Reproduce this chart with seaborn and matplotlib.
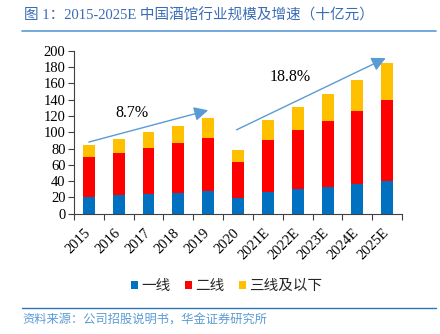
import numpy as np
import pandas as pd
import matplotlib
matplotlib.use("Agg")
import matplotlib.pyplot as plt
import matplotlib.transforms as mtransforms
import seaborn as sns

years = ["2015", "2016", "2017", "2018", "2019", "2020", "2021E", "2022E", "2023E", "2024E", "2025E"]
tier1 = [21, 23, 24.5, 26, 28, 19, 27, 30, 33, 36, 40]
tier2 = [49, 52, 56.5, 61, 65, 45, 64, 73, 81, 90, 100]
tier3 = [14, 17, 19, 21, 25, 14, 24, 28, 33, 38, 45]
series_names = ["一线", "二线", "三线及以下"]
colors = ["#0070C0", "#FF0000", "#FFC000"]
cagr_labels = ["8.7%", "18.8%"]

sns.set_theme(style="white")
plt.rcParams['font.family'] = ['Liberation Serif', 'Noto Sans CJK SC', 'DejaVu Sans']

fig = plt.figure(figsize=(4.4, 3.34), dpi=100)
ax = fig.add_axes([0.168, 0.360, 0.746, 0.488])

t1 = np.array(tier1)
t2 = t1 + np.array(tier2)
t3 = t2 + np.array(tier3)
df = pd.DataFrame({"year": years, "t1": t1, "t2": t2, "t3": t3})

for col, c in zip(["t3", "t2", "t1"], colors[::-1]):
    sns.barplot(data=df, x="year", y=col, color=c, width=0.4, ax=ax,
                saturation=1, edgecolor="none", linewidth=0)

ax.set_xlim(-0.5, 10.5)
ax.set_ylim(0, 200)
ax.set_yticks(np.arange(0, 201, 20))
ax.set_xlabel("")
ax.set_ylabel("")
for s in ["top", "right"]:
    ax.spines[s].set_visible(False)
for s in ["left", "bottom"]:
    ax.spines[s].set_color("#404040")
    ax.spines[s].set_linewidth(0.8)

ax.tick_params(axis="y", which="major", left=True, length=4, width=0.8, color="#404040",
               labelsize=10.5, pad=2, labelcolor="black")
ax.tick_params(axis="x", which="major", bottom=False, length=0, labelsize=10.5, pad=9, labelcolor="black")
ax.set_xticks(np.arange(-0.5, 10.6, 1), minor=True)
ax.tick_params(axis="x", which="minor", bottom=True, length=4, width=0.8, color="#404040")
offset = mtransforms.ScaledTranslation(3 / 72, 0, fig.dpi_scale_trans)
for lbl in ax.get_xticklabels():
    lbl.set_rotation(45)
    lbl.set_ha("right")
    lbl.set_family("Liberation Serif")
    lbl.set_transform(lbl.get_transform() + offset)
plt.setp(ax.get_yticklabels(), family="Liberation Serif")

arrow_color = "#5B9BD5"
ax.annotate("", xy=(4.0, 127), xytext=(0.0, 88),
            arrowprops=dict(arrowstyle="-|>,head_length=0.7,head_width=0.35", color=arrow_color, lw=1.0,
                            shrinkA=0, shrinkB=0))
ax.annotate("", xy=(9.95, 191), xytext=(4.95, 103),
            arrowprops=dict(arrowstyle="-|>,head_length=0.7,head_width=0.35", color=arrow_color, lw=1.0,
                            shrinkA=0, shrinkB=0))
ax.text(1.45, 123.5, cagr_labels[0], ha="center", va="center", fontsize=11.5,
        family="Liberation Serif", color="black")
ax.text(6.75, 168, cagr_labels[1], ha="center", va="center", fontsize=11.5,
        family="Liberation Serif", color="black")

# legend
from matplotlib.patches import Patch
handles = [Patch(facecolor=c, edgecolor="none") for c in colors]
fig.legend(handles, series_names, loc="center", bbox_to_anchor=(0.515, 0.143), ncol=3,
           frameon=False, prop={"family": "Noto Sans CJK SC", "size": 10.5},
           handlelength=0.5, handleheight=0.5, handletextpad=0.2, columnspacing=1.0)

# title and lines
fig.text(0.055, 0.953, "图 1：2015-2025E 中国酒馆行业规模及增速（十亿元）", ha="left", va="center",
         fontsize=10.5, color="#3A6BB5", family=["Liberation Serif", "Noto Sans CJK SC"])
fig.add_artist(plt.Line2D([0.05, 0.99], [0.907, 0.907], color="#5B9BD5", lw=1.2,
                          transform=fig.transFigure))
fig.add_artist(plt.Line2D([0.05, 0.99], [0.077, 0.077], color="#2E75B6", lw=1.0,
                          transform=fig.transFigure))
fig.text(0.05, 0.042, "资料来源：公司招股说明书，华金证券研究所", ha="left", va="center",
         fontsize=8.8, color="#5B9BD5", style="italic", family=["Noto Sans CJK SC"])

fig.savefig("out.png", dpi=100)
